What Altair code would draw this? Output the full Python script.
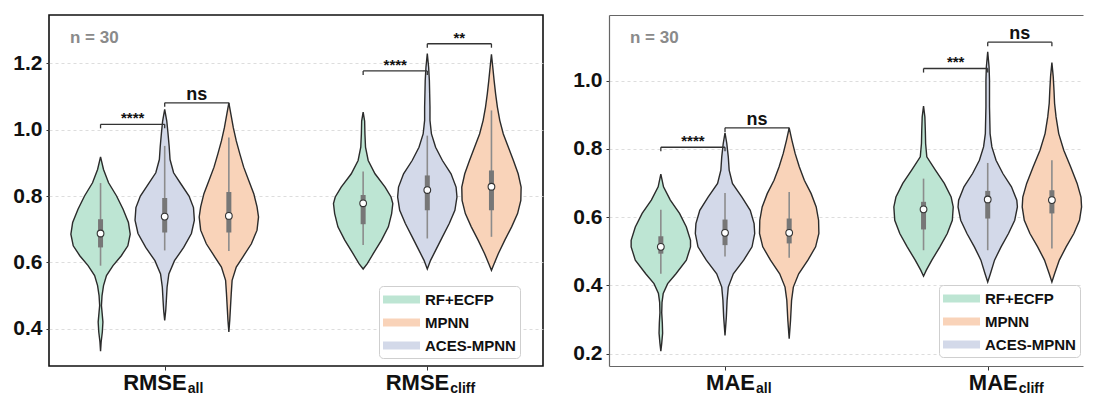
import altair as alt
import pandas as pd

FONT = "Liberation Sans"

# ---------------- categories ----------------
models = ["RF+ECFP", "ACES-MPNN", "MPNN"]           # drawing order inside a group
legend_order = ["RF+ECFP", "MPNN", "ACES-MPNN"]     # legend order
fill_colors = ["#bde5d3", "#f9d3b9", "#d3d9e9"]     # colours in legend order
left_groups = ["RMSE", "RMSE"]
left_subs = ["all", "cliff"]
right_groups = ["MAE", "MAE"]
right_subs = ["all", "cliff"]
left_ticks = [0.4, 0.6, 0.8, 1.0, 1.2]
right_ticks = [0.2, 0.4, 0.6, 0.8, 1.0]

# ---------------- violin outlines (value, relative half-width) ----------------
rmse_all_rf_v = [0.332, 0.36, 0.39, 0.42, 0.45, 0.47, 0.50, 0.53, 0.56, 0.59, 0.62, 0.65, 0.685, 0.72, 0.76, 0.80, 0.84, 0.88, 0.918]
rmse_all_rf_w = [0, 0.02, 0.06, 0.08, 0.05, 0.03, 0.05, 0.10, 0.20, 0.42, 0.70, 0.92, 1.0, 0.94, 0.76, 0.54, 0.27, 0.10, 0]
rmse_all_aces_v = [0.425, 0.455, 0.485, 0.525, 0.565, 0.605, 0.645, 0.687, 0.727, 0.765, 0.80, 0.84, 0.87, 0.91, 0.95, 0.99, 1.026, 1.061]
rmse_all_aces_w = [0, 0.035, 0.055, 0.08, 0.14, 0.33, 0.64, 0.90, 1.0, 0.97, 0.82, 0.52, 0.30, 0.18, 0.15, 0.11, 0.07, 0]
rmse_all_mpnn_v = [0.39, 0.425, 0.465, 0.505, 0.546, 0.586, 0.616, 0.656, 0.697, 0.737, 0.767, 0.807, 0.847, 0.887, 0.927, 0.966, 1.006, 1.046, 1.081]
rmse_all_mpnn_w = [0, 0.03, 0.055, 0.08, 0.11, 0.25, 0.47, 0.76, 0.95, 1.0, 0.95, 0.84, 0.67, 0.50, 0.37, 0.25, 0.15, 0.07, 0]

rmse_cliff_rf_v = [0.58, 0.596, 0.626, 0.667, 0.707, 0.747, 0.777, 0.797, 0.827, 0.867, 0.907, 0.947, 0.987, 1.026, 1.053]
rmse_cliff_rf_w = [0, 0.14, 0.34, 0.62, 0.85, 0.96, 1.0, 0.94, 0.74, 0.40, 0.17, 0.08, 0.06, 0.05, 0]
rmse_cliff_aces_v = [0.58, 0.606, 0.636, 0.677, 0.717, 0.757, 0.797, 0.827, 0.867, 0.907, 0.947, 0.987, 1.028, 1.068, 1.108, 1.148, 1.188, 1.229]
rmse_cliff_aces_w = [0, 0.11, 0.28, 0.51, 0.74, 0.93, 1.0, 0.97, 0.80, 0.51, 0.28, 0.14, 0.09, 0.09, 0.08, 0.07, 0.045, 0]
rmse_cliff_mpnn_v = [0.576, 0.596, 0.626, 0.667, 0.707, 0.747, 0.787, 0.827, 0.867, 0.907, 0.947, 0.987, 1.028, 1.068, 1.108, 1.148, 1.188, 1.227]
rmse_cliff_mpnn_w = [0, 0.09, 0.23, 0.45, 0.68, 0.88, 0.99, 1.0, 0.90, 0.74, 0.57, 0.40, 0.28, 0.20, 0.14, 0.09, 0.045, 0]

mae_all_rf_v = [0.207, 0.23, 0.26, 0.29, 0.32, 0.35, 0.376, 0.405, 0.434, 0.474, 0.513, 0.532, 0.571, 0.611, 0.65, 0.689, 0.726]
mae_all_rf_w = [0, 0.03, 0.06, 0.05, 0.03, 0.04, 0.08, 0.23, 0.51, 0.86, 1.0, 1.0, 0.86, 0.63, 0.32, 0.09, 0]
mae_all_aces_v = [0.253, 0.307, 0.356, 0.395, 0.434, 0.474, 0.513, 0.552, 0.581, 0.62, 0.659, 0.699, 0.738, 0.777, 0.816, 0.847]
mae_all_aces_w = [0, 0.045, 0.07, 0.11, 0.28, 0.63, 0.91, 1.0, 0.98, 0.85, 0.57, 0.25, 0.14, 0.11, 0.06, 0]
mae_all_mpnn_v = [0.244, 0.297, 0.356, 0.395, 0.434, 0.474, 0.513, 0.552, 0.591, 0.63, 0.669, 0.708, 0.748, 0.787, 0.826, 0.862]
mae_all_mpnn_w = [0, 0.045, 0.08, 0.14, 0.32, 0.63, 0.89, 1.0, 0.99, 0.91, 0.74, 0.51, 0.34, 0.20, 0.09, 0]

mae_cliff_rf_v = [0.427, 0.444, 0.474, 0.513, 0.552, 0.591, 0.63, 0.659, 0.699, 0.738, 0.777, 0.816, 0.855, 0.894, 0.926]
mae_cliff_rf_w = [0, 0.09, 0.28, 0.55, 0.80, 0.97, 1.0, 0.93, 0.70, 0.40, 0.11, 0.07, 0.06, 0.045, 0]
mae_cliff_aces_v = [0.41, 0.434, 0.474, 0.513, 0.552, 0.591, 0.63, 0.65, 0.689, 0.728, 0.767, 0.806, 0.845, 0.884, 0.924, 0.963, 1.002, 1.041, 1.085]
mae_cliff_aces_w = [0, 0.09, 0.23, 0.45, 0.70, 0.91, 1.0, 0.98, 0.80, 0.51, 0.28, 0.14, 0.08, 0.07, 0.06, 0.06, 0.06, 0.045, 0]
mae_cliff_mpnn_v = [0.41, 0.434, 0.474, 0.513, 0.552, 0.591, 0.63, 0.659, 0.699, 0.748, 0.796, 0.845, 0.894, 0.934, 0.973, 1.012, 1.053]
mae_cliff_mpnn_w = [0, 0.09, 0.25, 0.48, 0.74, 0.93, 1.0, 0.98, 0.85, 0.63, 0.40, 0.23, 0.14, 0.09, 0.07, 0.045, 0]

# ---------------- box statistics [low whisker, q1, median, q3, high whisker] ----------------
rmse_all_box = {"RF+ECFP": [0.59, 0.645, 0.687, 0.73, 0.839],
                "ACES-MPNN": [0.636, 0.69, 0.738, 0.794, 0.951],
                "MPNN": [0.634, 0.69, 0.74, 0.812, 0.976]}
rmse_cliff_box = {"RF+ECFP": [0.652, 0.715, 0.778, 0.803, 0.874],
                  "ACES-MPNN": [0.672, 0.757, 0.818, 0.862, 0.982],
                  "MPNN": [0.677, 0.757, 0.828, 0.877, 1.058]}
mae_all_box = {"RF+ECFP": [0.434, 0.493, 0.513, 0.544, 0.622],
               "ACES-MPNN": [0.485, 0.518, 0.554, 0.593, 0.671],
               "MPNN": [0.481, 0.523, 0.554, 0.596, 0.674]}
mae_cliff_box = {"RF+ECFP": [0.503, 0.564, 0.623, 0.645, 0.713],
                 "ACES-MPNN": [0.503, 0.596, 0.652, 0.677, 0.759],
                 "MPNN": [0.508, 0.611, 0.65, 0.679, 0.767]}

# ---------------- significance brackets (group, from, to, level, label) ----------------
left_brackets = [(0, "RF+ECFP", "ACES-MPNN", 1.016, "****"),
                 (0, "ACES-MPNN", "MPNN", 1.081, "ns"),
                 (1, "RF+ECFP", "ACES-MPNN", 1.177, "****"),
                 (1, "ACES-MPNN", "MPNN", 1.259, "**")]
right_brackets = [(0, "RF+ECFP", "ACES-MPNN", 0.805, "****"),
                  (0, "ACES-MPNN", "MPNN", 0.862, "ns"),
                  (1, "RF+ECFP", "ACES-MPNN", 1.036, "***"),
                  (1, "ACES-MPNN", "MPNN", 1.113, "ns")]

# ---------------- layout constants ----------------
OFFSET = {"RF+ECFP": -0.2443, "ACES-MPNN": 0.0, "MPNN": 0.2443}
HALF = 0.113
H = 351


def build_panel(violins, boxes, brackets, groups, subs, ydom, xdom, ticks, width,
                frame_color, frame_w, use_view_frame, label_dx, legend_x, legend_y,
                legend_pad, drop):
    rows = []
    for gi, group in enumerate(violins):
        for m, (vs, ws) in group.items():
            c = gi + OFFSET[m]
            for v, w in zip(vs, ws):
                rows.append({"key": f"{gi}-{m}", "model": m, "value": v,
                             "xl": c - w * HALF, "xr": c + w * HALF})
    vdf = pd.DataFrame(rows)

    brow = []
    for gi, b in enumerate(boxes):
        for m, s in b.items():
            brow.append({"xc": gi + OFFSET[m], "lo": s[0], "q1": s[1], "med": s[2],
                         "q3": s[3], "hi": s[4]})
    bdf = pd.DataFrame(brow)

    seg, lab = [], []
    for gi, a, b, lvl, txt in brackets:
        xa, xb = gi + OFFSET[a], gi + OFFSET[b]
        seg.append({"x": xa, "x2": xb, "y": lvl, "y2": lvl})
        seg.append({"x": xa, "x2": xa, "y": lvl, "y2": lvl - drop})
        seg.append({"x": xb, "x2": xb, "y": lvl, "y2": lvl - drop})
        lab.append({"x": (xa + xb) / 2, "y": lvl, "t": txt, "star": txt != "ns"})
    sdf = pd.DataFrame(seg)
    ldf = pd.DataFrame(lab)

    cdf = pd.DataFrame({"x": [0, 1], "main": groups, "sub": subs})

    show_dom = not use_view_frame
    xs = alt.Scale(domain=xdom, nice=False, zero=False)
    ys = alt.Scale(domain=ydom, nice=False, zero=False)
    xax = alt.Axis(values=[0, 1], labels=False, ticks=True, tickSize=4, tickColor="#333",
                   domain=show_dom, domainColor=frame_color, domainWidth=frame_w,
                   grid=False, title=None, orient="bottom")
    xtop = alt.Axis(values=[0, 1], labels=False, ticks=False, domain=show_dom,
                    domainColor=frame_color, domainWidth=frame_w, grid=False,
                    title=None, orient="top")
    yax = alt.Axis(values=ticks, format=".1f", labelFont=FONT, labelFontWeight="bold",
                   labelFontSize=21, labelColor="#111", labelPadding=4, tickSize=3,
                   tickColor="#333", domain=show_dom, domainColor=frame_color,
                   domainWidth=frame_w, grid=True, gridColor="#d4d4d4",
                   gridDash=[3, 3], gridWidth=0.8, title=None)

    def X(f, ax=None):
        if ax is None:
            return alt.X(f, type="quantitative", scale=xs, axis=None)
        return alt.X(f, type="quantitative", scale=xs, axis=ax)

    def Y(f):
        return alt.Y(f, type="quantitative", scale=ys, axis=yax)

    pad_expr = "datum.label + '" + "\u00a0" * legend_pad + "'"
    legend = alt.Legend(orient="none", legendX=legend_x, legendY=legend_y, title=None,
                        symbolType="M-2,-0.43L2,-0.43L2,0.43L-2,0.43Z", symbolSize=342,
                        symbolOffset=9, symbolStrokeWidth=0, symbolOpacity=1,
                        labelFont=FONT, labelFontWeight="bold", labelFontSize=15,
                        labelColor="#111", labelOffset=14, rowPadding=5, padding=4,
                        labelExpr=pad_expr,
                        fillColor="white", strokeColor="#cfcfcf", cornerRadius=4)

    fill = alt.Chart(vdf).mark_area(orient="horizontal", opacity=1).encode(
        y=Y("value"), x=X("xl", xax), x2="xr",
        color=alt.Color("model:N", scale=alt.Scale(domain=legend_order, range=fill_colors),
                        legend=legend),
        detail="key:N")
    outline = alt.Chart(vdf).mark_area(orient="horizontal", fillOpacity=0, stroke="#2b2b2b",
                                       strokeWidth=1.4).encode(
        y=Y("value"), x=X("xl"), x2="xr", detail="key:N")
    whisk = alt.Chart(bdf).mark_rule(color="#8c8c8c", strokeWidth=1.6).encode(
        x=X("xc"), y=Y("lo"), y2="hi")
    box = alt.Chart(bdf).mark_rule(color="#777777", strokeWidth=5).encode(
        x=X("xc"), y=Y("q1"), y2="q3")
    med = alt.Chart(bdf).mark_point(shape="circle", filled=True, fill="white", stroke="#333",
                                    strokeWidth=1.1, size=45, opacity=1).encode(
        x=X("xc"), y=Y("med"))
    brk = alt.Chart(sdf).mark_rule(color="#333", strokeWidth=1.3).encode(
        x=X("x"), x2="x2", y=Y("y"), y2="y2")
    stars = alt.Chart(ldf).transform_filter("datum.star").mark_text(
        font=FONT, fontSize=15, fontWeight="bold", color="#111", baseline="alphabetic",
        dy=-1).encode(x=X("x"), y=Y("y"), text="t:N")
    ns = alt.Chart(ldf).transform_filter("!datum.star").mark_text(
        font=FONT, fontSize=18, fontWeight="bold", color="#111", baseline="alphabetic",
        dy=-3).encode(x=X("x"), y=Y("y"), text="t:N")
    ntext = alt.Chart(pd.DataFrame({"t": ["n = 30"]})).mark_text(
        font=FONT, fontSize=17, fontWeight="bold", color="#8a8a8a", align="left",
        baseline="middle").encode(x=alt.value(21), y=alt.value(23), text="t:N")
    main = alt.Chart(cdf).mark_text(font=FONT, fontSize=22, fontWeight="bold", color="#111",
                                    align="right", baseline="alphabetic", dx=label_dx).encode(
        x=X("x"), y=alt.value(H + 24), text="main:N")
    sub = alt.Chart(cdf).mark_text(font=FONT, fontSize=14, fontWeight="bold", color="#111",
                                   align="left", baseline="alphabetic", dx=label_dx + 1).encode(
        x=X("x", xtop), y=alt.value(H + 27), text="sub:N")

    if use_view_frame:
        view = alt.ViewBackground(stroke=frame_color, strokeWidth=frame_w)
    else:
        view = alt.ViewBackground(stroke="transparent", strokeWidth=0)

    return alt.layer(fill, outline, whisk, box, med, brk, stars, ns, ntext, main, sub).resolve_axis(
        x="independent").properties(width=width, height=H, view=view)


left = build_panel(
    [{"RF+ECFP": (rmse_all_rf_v, rmse_all_rf_w), "ACES-MPNN": (rmse_all_aces_v, rmse_all_aces_w),
      "MPNN": (rmse_all_mpnn_v, rmse_all_mpnn_w)},
     {"RF+ECFP": (rmse_cliff_rf_v, rmse_cliff_rf_w), "ACES-MPNN": (rmse_cliff_aces_v, rmse_cliff_aces_w),
      "MPNN": (rmse_cliff_mpnn_v, rmse_cliff_mpnn_w)}],
    [rmse_all_box, rmse_cliff_box], left_brackets, left_groups, left_subs,
    [0.2876, 1.3456], [-0.4406, 1.4406], left_ticks, 494, "#111", 1.6, True,
    22, 330, 271, 5, 0.012)

right = build_panel(
    [{"RF+ECFP": (mae_all_rf_v, mae_all_rf_w), "ACES-MPNN": (mae_all_aces_v, mae_all_aces_w),
      "MPNN": (mae_all_mpnn_v, mae_all_mpnn_w)},
     {"RF+ECFP": (mae_cliff_rf_v, mae_cliff_rf_w), "ACES-MPNN": (mae_cliff_aces_v, mae_cliff_aces_w),
      "MPNN": (mae_cliff_mpnn_v, mae_cliff_mpnn_w)}],
    [mae_all_box, mae_cliff_box], right_brackets, right_groups, right_subs,
    [0.1636, 1.1928], [-0.4416, 1.3627], right_ticks, 474, "#666", 1.2, False,
    30, 330, 270, 0, 0.012)

chart = alt.hconcat(left, right, spacing=28).resolve_scale(
    x="independent", y="independent", color="independent").properties(
    padding={"left": 4, "top": 6, "right": 0, "bottom": 0}).configure(font=FONT)

chart.save("out.html", embed_options={"renderer": "svg", "actions": False})
